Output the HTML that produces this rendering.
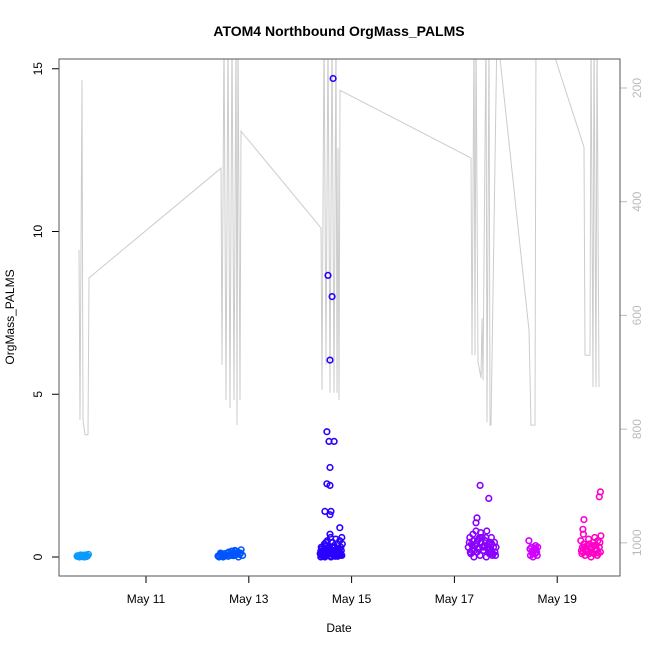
<!DOCTYPE html>
<html><head><meta charset="utf-8"><style>
html,body{margin:0;padding:0;background:#fff}
svg{display:block;font-family:"Liberation Sans",sans-serif}
</style></head><body>
<svg id="chart" width="650" height="650" viewBox="0 0 650 650">
<text x="339" y="36" text-anchor="middle" font-size="14" font-weight="bold">ATOM4 Northbound OrgMass_PALMS</text>
<text x="339" y="632" text-anchor="middle" font-size="12">Date</text>
<text transform="translate(14,317) rotate(-90)" text-anchor="middle" font-size="12">OrgMass_PALMS</text>
<defs><clipPath id="pc"><rect x="59" y="59" width="561" height="517"/></clipPath></defs>
<g id="track" clip-path="url(#pc)"></g>
<g id="pts"></g>
<g id="axes"></g>
<rect x="59" y="59" width="561" height="517" fill="none" stroke="#555" stroke-width="1"/>
</svg>
<script>
const xTickLabels=["May 11","May 13","May 15","May 17","May 19"];
const xTickDays=[11,13,15,17,19];
const yTicks=[0,5,10,15];
const pTicks=[200,400,600,800,1000];
const trackT=[9.697,9.716,9.755,9.774,9.813,9.872,9.891,12.459,12.479,12.518,12.556,12.595,12.634,12.673,12.712,12.751,12.770,12.790,12.829,12.848,14.405,14.424,14.463,14.502,14.541,14.580,14.619,14.658,14.696,14.716,14.735,14.755,14.774,17.323,17.342,17.381,17.401,17.420,17.459,17.518,17.537,17.556,17.615,17.634,17.673,17.693,17.712,17.829,18.451,18.490,18.568,18.588,18.782,19.521,19.541,19.638,19.658,19.696,19.716,19.755,19.774,19.813];
const trackP=[485,784,186,784,810,810,534,341,687,98,749,98,763,98,749,98,793,98,749,276,446,731,98,687,98,736,98,736,98,736,306,749,204,323,670,98,670,98,682,710,605,714,98,788,98,793,793,98,626,793,793,98,98,304,670,670,98,726,98,726,98,726];
const flightColors=["#0a9bff","#0055ff","#2a00ff","#8a00ff","#d000ff","#ff00c8"];
const f1T=[9.66,9.68,9.70,9.72,9.74,9.76,9.78,9.80,9.82,9.84,9.86,9.88,9.70,9.75,9.80,9.85,9.67,9.73,9.79,9.83];
const f1V=[0.02,0.03,0.01,0.04,0.02,0.05,0.03,0.02,0.06,0.04,0.03,0.08,0.0,0.01,0.0,0.02,0.04,0.06,0.05,0.01];
const f2T=[12.40,12.43,12.46,12.49,12.52,12.55,12.58,12.61,12.64,12.67,12.70,12.73,12.76,12.79,12.82,12.85,12.88,12.50,12.60,12.70,12.80,12.45,12.65,12.75,12.42,12.48,12.54,12.62,12.68,12.74,12.84];
const f2V=[0.03,0.05,0.08,0.02,0.10,0.06,0.12,0.15,0.08,0.18,0.12,0.20,0.10,0.15,0.08,0.22,0.05,0.0,0.02,0.04,0.0,0.12,0.05,0.18,0.0,0.04,0.03,0.07,0.1,0.06,0.12];
const f3T=[14.64,14.54,14.62,14.58,14.52,14.56,14.66,14.58,14.52,14.58,14.48,14.58,14.60,14.77,14.39,14.41,14.43,14.45,14.47,14.49,14.51,14.53,14.55,14.57,14.59,14.61,14.63,14.65,14.67,14.69,14.71,14.73,14.75,14.77,14.79,14.81,14.40,14.44,14.48,14.52,14.56,14.60,14.64,14.68,14.72,14.76,14.80,14.42,14.50,14.58,14.66,14.74,14.82,14.46,14.54,14.62,14.70,14.78,14.40,14.43,14.46,14.49,14.52,14.55,14.58,14.61,14.64,14.67,14.70,14.73,14.76,14.79,14.41,14.45,14.49,14.53,14.57,14.61,14.65,14.69,14.73,14.77,14.81];
const f3V=[14.7,8.65,8.0,6.05,3.85,3.55,3.55,2.75,2.25,2.2,1.4,1.3,1.4,0.9,0.1,0.3,0.05,0.2,0.4,0.1,0.35,0.5,0.15,0.3,0.6,0.2,0.45,0.1,0.3,0.55,0.2,0.4,0.15,0.5,0.3,0.6,0.0,0.1,0.0,0.05,0.1,0.0,0.08,0.02,0.1,0.05,0.2,0.25,0.45,0.7,0.35,0.25,0.4,0.15,0.2,0.3,0.1,0.12,0.18,0.12,0.22,0.08,0.15,0.25,0.18,0.1,0.2,0.28,0.15,0.22,0.1,0.08,0.05,0.03,0.05,0.12,0.03,0.15,0.04,0.06,0.02,0.12,0.05];
const f4T=[17.50,17.67,17.44,17.42,17.27,17.30,17.33,17.36,17.39,17.42,17.45,17.48,17.51,17.54,17.57,17.60,17.63,17.66,17.69,17.72,17.75,17.78,17.81,17.32,17.38,17.44,17.50,17.56,17.62,17.68,17.74,17.35,17.47,17.59,17.71,17.80,17.29,17.34,17.40,17.46,17.52,17.58,17.64,17.70,17.76,17.31,17.37,17.43,17.49,17.55,17.61,17.67,17.73,17.79];
const f4V=[2.2,1.8,1.2,1.05,0.3,0.6,0.4,0.7,0.2,0.8,0.5,0.3,0.75,0.6,0.2,0.5,0.8,0.4,0.25,0.6,0.1,0.45,0.3,0.1,0.0,0.15,0.05,0.2,0.0,0.1,0.05,0.35,0.55,0.3,0.15,0.05,0.45,0.2,0.35,0.25,0.45,0.35,0.3,0.45,0.3,0.15,0.5,0.4,0.6,0.3,0.6,0.2,0.4,0.15];
const f5T=[18.45,18.47,18.50,18.52,18.55,18.58,18.60,18.62,18.48,18.53,18.57,18.61,18.51,18.56,18.59];
const f5V=[0.5,0.25,0.3,0.1,0.2,0.35,0.15,0.3,0.05,0.0,0.1,0.05,0.18,0.28,0.22];
const f6T=[19.84,19.82,19.52,19.50,19.46,19.49,19.52,19.55,19.58,19.61,19.64,19.67,19.70,19.73,19.76,19.79,19.82,19.85,19.48,19.54,19.60,19.66,19.72,19.78,19.84,19.51,19.63,19.75,19.47,19.53,19.59,19.65,19.71,19.77,19.83,19.50,19.56,19.62,19.68,19.74,19.80];
const f6V=[2.0,1.85,1.15,0.85,0.5,0.3,0.4,0.2,0.35,0.55,0.3,0.15,0.45,0.6,0.25,0.5,0.3,0.65,0.1,0.05,0.2,0.0,0.1,0.05,0.15,0.7,0.4,0.35,0.2,0.3,0.15,0.25,0.35,0.2,0.45,0.15,0.25,0.1,0.3,0.2,0.12];
const flightT=[f1T,f2T,f3T,f4T,f5T,f6T];
const flightV=[f1V,f2V,f3V,f4V,f5V,f6V];

const NS="http://www.w3.org/2000/svg";
function xs(d){return 146+(d-11)*51.4;}
function ys(v){return 557-v*32.55;}
function ps(p){return 88+(p-200)*0.5685;}
function mk(tag,attrs,parent){const e=document.createElementNS(NS,tag);for(const k in attrs)e.setAttribute(k,attrs[k]);parent.appendChild(e);return e;}

const track=document.getElementById('track');
const pl=mk('polyline',{points:trackT.map((t,i)=>xs(t).toFixed(1)+','+ps(trackP[i]).toFixed(1)).join(' '),fill:'none',stroke:'#cccccc','stroke-width':1},track);



const pts=document.getElementById('pts');
flightT.forEach((ts,f)=>{
  ts.forEach((t,i)=>{
    const c=mk('circle',{cx:xs(t).toFixed(1),cy:ys(flightV[f][i]).toFixed(1),r:2.8,fill:'none',stroke:flightColors[f],'stroke-width':1.6},pts);
    
    
  });
});

const axes=document.getElementById('axes');
xTickDays.forEach((d,i)=>{
  const x=xs(d);
  const l=mk('line',{x1:x,y1:576,x2:x,y2:583,stroke:'#000'},axes);
  
  
  const tx=mk('text',{x:x,y:603,'text-anchor':'middle','font-size':12},axes);
  tx.textContent=xTickLabels[i];
  
  
});
const xl=mk('line',{x1:xs(11),y1:576,x2:xs(19),y2:576,stroke:'#000'},axes);


yTicks.forEach(v=>{
  const y=ys(v);
  const l=mk('line',{x1:52,y1:y,x2:59,y2:y,stroke:'#000'},axes);
  
  
  const tx=mk('text',{transform:`translate(42,${y}) rotate(-90)`,'text-anchor':'middle','font-size':12},axes);
  tx.textContent=v;
  
  
});
const yl=mk('line',{x1:59,y1:ys(0),x2:59,y2:ys(15),stroke:'#000'},axes);


pTicks.forEach(p=>{
  const y=ps(p);
  const l=mk('line',{x1:620,y1:y,x2:627,y2:y,stroke:'#bbb'},axes);
  
  
  const tx=mk('text',{transform:`translate(641,${y}) rotate(-90)`,'text-anchor':'middle','font-size':12,fill:'#bbb'},axes);
  tx.textContent=p;
  
  
});
</script>
</body></html>
